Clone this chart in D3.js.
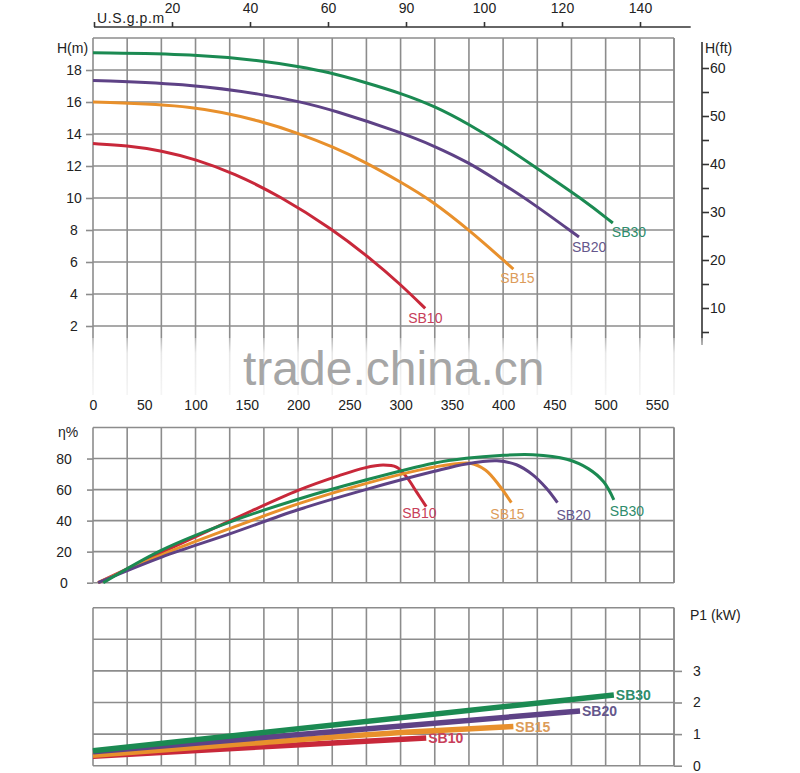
<!DOCTYPE html>
<html><head><meta charset="utf-8">
<script src="https://cdn.jsdelivr.net/npm/d3@7"></script>
<style>
body{margin:0;background:#fff;}
svg{display:block;font-family:"Liberation Sans",Arial,sans-serif;}
</style></head>
<body><svg id="c" width="800" height="773"></svg>
<script>
// ---------- DATA ----------
const seriesNames = ["SB10","SB15","SB20","SB30"];
// Head curves: flow (l/min) vs head (m)
const sb10HeadQ = [0,33,67,100,137,183,234,270,300,324];
const sb10HeadH = [13.4,13.29,12.96,12.42,11.56,10.1,8.03,6.25,4.6,3.1];
const sb15HeadQ = [0,100,167,200,234,267,300,329,367,410];
const sb15HeadH = [16.0,15.8,14.75,14.05,13.2,12.2,11.0,9.9,8.0,5.56];
const sb20HeadQ = [0,100,167,200,234,300,333,367,394,424,474];
const sb20HeadH = [17.35,17.1,16.45,16.05,15.5,14.1,13.25,12.2,11.1,9.9,7.56];
const sb30HeadQ = [0,100,167,200,229,267,300,333,367,400,433,478,507];
const sb30HeadH = [19.08,19.0,18.56,18.22,17.88,17.2,16.55,15.75,14.6,13.3,11.85,9.9,8.44];
// Efficiency curves: flow (l/min) vs efficiency (%)
const sb10EffQ = [5,67,134,200,240,265,283,296,306,316,325];
const sb10EffE = [0,19.5,40,59.5,69,74,75.8,74.5,68,58,49];
const sb15EffQ = [5,67,134,200,265,319,350,368,383,397,408];
const sb15EffE = [0,18,35,50.8,63.7,72.7,76.3,77,72.5,62,51.6];
const sb20EffQ = [5,67,134,200,265,332,364,394,413,429,442,453];
const sb20EffE = [0,16.5,31.6,47,59.8,71.6,76.5,78.5,76,69.5,61,51.6];
const sb30EffQ = [10,67,134,200,265,332,364,397,429,462,483,498,508];
const sb30EffE = [0,21,39.2,53.8,66,77,80.2,82,82.4,79.5,73.5,65,53.4];
// Power curves: flow (l/min) vs P1 (kW)
const sb10PowQ = [0,325];
const sb10PowP = [0.30,0.88];
const sb15PowQ = [0,150,300,410];
const sb15PowP = [0.33,0.70,1.05,1.24];
const sb20PowQ = [0,475];
const sb20PowP = [0.44,1.73];
const sb30PowQ = [0,508];
const sb30PowP = [0.47,2.24];
// Tick values / labels
const flowTicks = [0,50,100,150,200,250,300,350,400,450,500,550];
const gpmTicks = [0,20,40,60,80,100,120,140];
const gpmLabels = ["","20","40","60","90","100","120","140"];
const headTicks = [2,4,6,8,10,12,14,16,18];
const ftTicks = [5,10,15,20,25,30,35,40,45,50,55,60];
const effTicks = [0,20,40,60,80];
const powTicks = [0,1,2,3];

// ---------- STYLE / LAYOUT ----------
const lineColors = {SB10:"#c8283a",SB15:"#e8902c",SB20:"#5e4286",SB30:"#1b8a52"};
const labelColors = {SB10:"#c8405a",SB15:"#dc9c5a",SB20:"#65578c",SB30:"#2e8c6c"};
const gridColor = "#8c8c8c";
const textColor = "#222";
const headLabelOff = {SB10:[-17,15],SB15:[-13,14],SB20:[-7,15],SB30:[-1,14]};
const effLabelOff = {SB10:[-24,11],SB15:[-21,16],SB20:[-1,17],SB30:[-4,16]};

const svg = d3.select("#c");
const x = d3.scaleLinear().domain([0,1700/3]).range([93,674]);
const gridQ = d3.range(0,18).map(k=>k*100/3);
const yH = d3.scaleLinear().domain([0,20]).range([358,38]);
const yFt = d3.scaleLinear().domain([0,60]).range([356,68]);
const yE = d3.scaleLinear().domain([0,100]).range([582.7,427.5]);
const yP = d3.scaleLinear().domain([0,5]).range([765.7,607.7]);
const xg = d3.scaleLinear().domain([0,153]).range([94,690.7]);

const headData = {SB10:[sb10HeadQ,sb10HeadH],SB15:[sb15HeadQ,sb15HeadH],SB20:[sb20HeadQ,sb20HeadH],SB30:[sb30HeadQ,sb30HeadH]};
const effData = {SB10:[sb10EffQ,sb10EffE],SB15:[sb15EffQ,sb15EffE],SB20:[sb20EffQ,sb20EffE],SB30:[sb30EffQ,sb30EffE]};
const powData = {SB10:[sb10PowQ,sb10PowP],SB15:[sb15PowQ,sb15PowP],SB20:[sb20PowQ,sb20PowP],SB30:[sb30PowQ,sb30PowP]};
const zip = (a,b)=>a.map((v,i)=>[v,b[i]]);

function grid(g, y, yVals, yTop, yBot){
  g.append("g").selectAll("line").data(gridQ.concat([1700/3])).join("line")
    .attr("x1",d=>x(d)).attr("x2",d=>x(d)).attr("y1",yTop).attr("y2",yBot)
    .attr("stroke",gridColor).attr("stroke-width",1.6);
  g.append("g").selectAll("line").data(yVals).join("line")
    .attr("x1",x(0)).attr("x2",x(1700/3)).attr("y1",d=>y(d)).attr("y2",d=>y(d))
    .attr("stroke",gridColor).attr("stroke-width",1.6);
}
function styleAxis(g){
  g.select(".domain").remove();
  g.selectAll(".tick line").attr("stroke",gridColor).attr("stroke-width",1.6);
  g.selectAll("text").attr("fill",textColor).attr("font-size",14).attr("font-family",null);
}

// ===== TOP PANEL =====
const gTop = svg.append("g");
grid(gTop, yH, [2,4,6,8,10,12,14,16,18,20], 38, 395);
const axL = gTop.append("g").attr("transform",`translate(${x(0)},0)`)
  .call(d3.axisLeft(yH).tickValues(headTicks).tickSize(7).tickFormat(d3.format("d")));
styleAxis(axL);
axL.selectAll("text").attr("text-anchor","middle").attr("x",-19);
gTop.append("text").attr("x",57).attr("y",53).attr("font-size",14).attr("fill",textColor).text("H(m)");
gTop.append("line").attr("x1",702).attr("x2",702).attr("y1",42).attr("y2",345).attr("stroke","#333").attr("stroke-width",1.6);
const axR = gTop.append("g").attr("transform","translate(702,0)")
  .call(d3.axisRight(yFt).tickValues(ftTicks).tickSize(7).tickPadding(1).tickFormat(d=>d%10===0?d:""));
styleAxis(axR);
axR.selectAll(".tick line").attr("stroke","#333");
gTop.append("text").attr("x",705).attr("y",53).attr("font-size",14).attr("fill",textColor).text("H(ft)");
const axT = gTop.append("g").attr("transform","translate(0,27)")
  .call(d3.axisTop(xg).tickValues(gpmTicks).tickSize(5).tickPadding(9).tickFormat((d,i)=>gpmLabels[i]));
axT.select(".domain").attr("stroke","#333").attr("stroke-width",1.6).attr("d","M94,0H690.7");
axT.selectAll(".tick line").attr("stroke","#333").attr("stroke-width",1.6);
axT.selectAll("text").attr("fill",textColor).attr("font-size",14).attr("font-family",null);
gTop.append("text").attr("x",97).attr("y",23).attr("font-size",14).attr("letter-spacing",0.6).attr("fill",textColor).text("U.S.g.p.m");
const lineH = d3.line().x(d=>x(d[0])).y(d=>yH(d[1])).curve(d3.curveBasis);
seriesNames.forEach(s=>{
  const pts = zip(...headData[s]);
  gTop.append("path").attr("d",lineH(pts)).attr("fill","none").attr("stroke",lineColors[s]).attr("stroke-width",3);
  const e = pts[pts.length-1];
  gTop.append("text").attr("x",x(e[0])+headLabelOff[s][0]).attr("y",yH(e[1])+headLabelOff[s][1])
    .attr("font-size",14).attr("fill",labelColors[s]).text(s);
});
const defs = svg.append("defs");
const gr = defs.append("linearGradient").attr("id","fade").attr("x1",0).attr("y1",0).attr("x2",0).attr("y2",1);
gr.append("stop").attr("offset","0").attr("stop-color","#fff").attr("stop-opacity",0.35);
gr.append("stop").attr("offset","0.25").attr("stop-color","#fff").attr("stop-opacity",0.8);
gr.append("stop").attr("offset","1").attr("stop-color","#fff").attr("stop-opacity",0.92);
gTop.append("rect").attr("x",60).attr("y",338).attr("width",720).attr("height",60).attr("fill","url(#fade)");
gTop.append("text").attr("x",243).attr("y",385).attr("font-size",48).attr("fill","#a6a6a6").text("trade.china.cn");
const axB = gTop.append("g").attr("transform","translate(0,397)")
  .call(d3.axisBottom(x).tickValues(flowTicks).tickSize(0).tickPadding(3));
styleAxis(axB);

// ===== MIDDLE PANEL =====
const gMid = svg.append("g");
grid(gMid, yE, [0,20,40,60,80,100], 427.5, 582.7);
const axE = gMid.append("g").attr("transform",`translate(${x(0)},0)`)
  .call(d3.axisLeft(yE).tickValues(effTicks).tickSize(6));
styleAxis(axE);
axE.selectAll("text").attr("text-anchor","middle").attr("x",-29);
gMid.append("text").attr("x",58).attr("y",437).attr("font-size",14).attr("fill",textColor).text("η%");
const lineE = d3.line().x(d=>x(d[0])).y(d=>yE(d[1])).curve(d3.curveCatmullRom.alpha(0.5));
seriesNames.forEach(s=>{
  const pts = zip(...effData[s]);
  gMid.append("path").attr("d",lineE(pts)).attr("fill","none").attr("stroke",lineColors[s]).attr("stroke-width",3);
  const e = pts[pts.length-1];
  gMid.append("text").attr("x",x(e[0])+effLabelOff[s][0]).attr("y",yE(e[1])+effLabelOff[s][1])
    .attr("font-size",14).attr("fill",labelColors[s]).text(s);
});

// ===== BOTTOM PANEL =====
const gBot = svg.append("g");
grid(gBot, yP, [0,1,2,3,4,5], 607.7, 765.7);
const axP = gBot.append("g").attr("transform",`translate(${x(1700/3)},0)`)
  .call(d3.axisRight(yP).tickValues(powTicks).tickSize(8).tickFormat(d3.format("d")));
styleAxis(axP);
axP.selectAll("text").attr("text-anchor","middle").attr("x",23);
gBot.append("text").attr("x",690).attr("y",620).attr("font-size",14).attr("fill",textColor).text("P1 (kW)");
const lineP = d3.line().x(d=>x(d[0])).y(d=>yP(d[1])).curve(d3.curveMonotoneX);
seriesNames.forEach(s=>{
  const pts = zip(...powData[s]);
  gBot.append("path").attr("d",lineP(pts)).attr("fill","none").attr("stroke",lineColors[s]).attr("stroke-width",5.5);
  const e = pts[pts.length-1];
  gBot.append("text").attr("x",x(e[0])+2).attr("y",yP(e[1])+5).attr("font-size",14).attr("font-weight","bold")
    .attr("fill",labelColors[s]).text(s);
});
</script></body></html>
